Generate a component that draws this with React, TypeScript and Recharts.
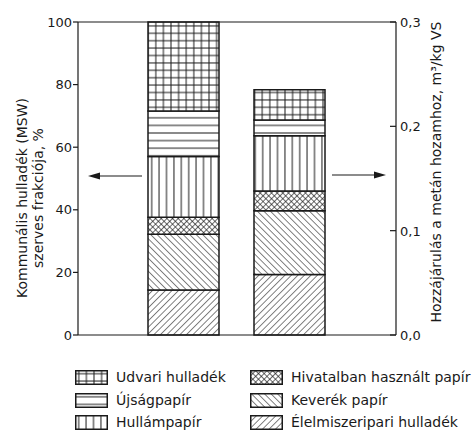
import { Bar, ComposedChart, Label, Line, ReferenceLine, XAxis, YAxis } from 'recharts'

// two columns: organic MSW fraction (%) and contribution to methane yield (m3/kg VS)
const categories = ['Szerves frakció', 'Metán hozam']

const seriesNames = [
  'Élelmiszeripari hulladék',
  'Keverék papír',
  'Hivatalban használt papír',
  'Hullámpapír',
  'Újságpapír',
  'Udvari hulladék',
]
const seriesKeys = ['elelmiszer', 'keverek', 'hivatal', 'hullam', 'ujsag', 'udvari']

// % of organic MSW fraction, bottom to top
const fractionPct = [14.4, 17.8, 5.4, 19.4, 14.6, 28.4]
// m3/kg VS contribution to methane yield, bottom to top
const methaneYield = [0.058, 0.061, 0.019, 0.053, 0.015, 0.029]

const leftTicks = [0, 20, 40, 60, 80, 100]
const rightTicks = [0, 0.1, 0.2, 0.3]
const RIGHT_MAX = 0.3

const chartData = categories.map((name, ci) => {
  const row: Record<string, number | string | null> = { name }
  seriesKeys.forEach((k, i) => {
    row[k] = ci === 0 ? fractionPct[i] : (methaneYield[i] / RIGHT_MAX) * 100
  })
  // total methane yield, only used so the right axis gets its ticks
  row.methaneTotal = ci === 1 ? methaneYield.reduce((a, b) => a + b, 0) : null
  return row
})

const patternIds = ['p-slash', 'p-back', 'p-cross', 'p-vert', 'p-horiz', 'p-grid']

const FONT = '"DejaVu Sans", sans-serif'
const INK = '#1a1a1a'

const Patterns = () => (
  <defs>
    <pattern id="p-slash" width="4.6" height="4.6" patternUnits="userSpaceOnUse" patternTransform="rotate(45)">
      <rect width="4.6" height="4.6" fill="#fff" />
      <line x1="0" y1="0" x2="0" y2="4.6" stroke={INK} strokeWidth="1.1" />
    </pattern>
    <pattern id="p-back" width="4.6" height="4.6" patternUnits="userSpaceOnUse" patternTransform="rotate(-45)">
      <rect width="4.6" height="4.6" fill="#fff" />
      <line x1="0" y1="0" x2="0" y2="4.6" stroke={INK} strokeWidth="1.1" />
    </pattern>
    <pattern id="p-cross" width="4" height="4" patternUnits="userSpaceOnUse" patternTransform="rotate(45)">
      <rect width="4" height="4" fill="#fff" />
      <line x1="0" y1="0" x2="0" y2="4" stroke={INK} strokeWidth="1.3" />
      <line x1="0" y1="0" x2="4" y2="0" stroke={INK} strokeWidth="1.3" />
    </pattern>
    <pattern id="p-vert" width="7.4" height="7.4" patternUnits="userSpaceOnUse">
      <rect width="7.4" height="7.4" fill="#fff" />
      <line x1="3.7" y1="0" x2="3.7" y2="7.4" stroke={INK} strokeWidth="1" />
    </pattern>
    <pattern id="p-horiz" width="7.6" height="7.6" patternUnits="userSpaceOnUse">
      <rect width="7.6" height="7.6" fill="#fff" />
      <line x1="0" y1="3.8" x2="7.6" y2="3.8" stroke={INK} strokeWidth="1" />
    </pattern>
    <pattern id="p-grid" width="7.6" height="7.4" patternUnits="userSpaceOnUse">
      <rect width="7.6" height="7.4" fill="#fff" />
      <line x1="3.8" y1="0" x2="3.8" y2="7.4" stroke={INK} strokeWidth="1" />
      <line x1="0" y1="3.7" x2="7.6" y2="3.7" stroke={INK} strokeWidth="1" />
    </pattern>
  </defs>
)

// right axis: tick mark points inward, label sits outside
const renderRightTick = (props: any) => {
  const { x, y, payload } = props
  return (
    <g key={`rt-${payload.value}`}>
      <line x1={x - 6} y1={y} x2={x} y2={y} stroke={INK} strokeWidth={1.2} />
      <text x={x + 4} y={y + 5} fontSize={13} fontFamily={FONT} fill={INK} textAnchor="start">
        {Number(payload.value).toFixed(1).replace('.', ',')}
      </text>
    </g>
  )
}

const LeftTitle = () => (
  <g fontFamily={FONT} fontSize={14} fill={INK}>
    <text x={22} y={198} transform="rotate(-90 22 198)" textAnchor="middle" dominantBaseline="central">
      Kommunális hulladék (MSW)
    </text>
    <text x={38} y={198} transform="rotate(-90 38 198)" textAnchor="middle" dominantBaseline="central">
      szerves frakciója, %
    </text>
  </g>
)

const RightTitle = () => (
  <text
    x={436}
    y={172}
    transform="rotate(-90 436 172)"
    textAnchor="middle"
    dominantBaseline="central"
    fontFamily={FONT}
    fontSize={14}
    fill={INK}
  >
    Hozzájárulás a metán hozamhoz, m³/kg VS
  </text>
)

// legend: left column top-down, then right column
const legendLeft = [5, 4, 3]
const legendRight = [2, 1, 0]

const LegendRow = ({ idx, x, y }: { idx: number; x: number; y: number }) => (
  <div style={{ position: 'absolute', left: x, top: y - 8, height: 16, display: 'flex', alignItems: 'center' }}>
    <svg width={33} height={15} style={{ display: 'block' }}>
      <rect x={0.75} y={0.75} width={31.5} height={13.5} fill={`url(#${patternIds[idx]})`} stroke={INK} strokeWidth={1.5} />
    </svg>
    <span style={{ marginLeft: 8, fontFamily: FONT, fontSize: 14, color: INK, whiteSpace: 'nowrap' }}>
      {seriesNames[idx]}
    </span>
  </div>
)

const rowY = [377, 400, 422]

export default function App() {
  return (
    <div style={{ position: 'absolute', left: 0, top: 0, width: 474, height: 432, background: '#fff' }}>
      <ComposedChart
        width={474}
        height={345}
        data={chartData}
        margin={{ top: 22, right: 0, bottom: 9, left: 0 }}
        barSize={71}
      >
        <Patterns />
        <XAxis
          dataKey="name"
          height={1}
          tick={false}
          tickLine={false}
          axisLine={{ stroke: INK, strokeWidth: 1.2 }}
          padding={{ left: 52, right: 54 }}
        />
        <YAxis
          yAxisId="left"
          width={78}
          domain={[0, 100]}
          ticks={leftTicks}
          tickSize={5}
          tickMargin={1}
          tickLine={{ stroke: INK, strokeWidth: 1.2 }}
          axisLine={{ stroke: INK, strokeWidth: 1.2 }}
          tick={{ fill: INK, fontSize: 13, fontFamily: FONT }}
        >
          <Label content={<LeftTitle />} />
        </YAxis>
        <YAxis
          yAxisId="right"
          orientation="right"
          width={78}
          domain={[0, RIGHT_MAX]}
          ticks={rightTicks}
          interval={0}
          tickSize={0}
          tickMargin={0}
          tickLine={false}
          axisLine={{ stroke: INK, strokeWidth: 1.2 }}
          tick={renderRightTick}
        >
          <Label content={<RightTitle />} />
        </YAxis>
        <ReferenceLine yAxisId="left" y={100} stroke={INK} strokeWidth={1.2} />
        {seriesKeys.map((k, i) => (
          <Bar
            key={k}
            dataKey={k}
            name={seriesNames[i]}
            yAxisId="left"
            stackId="a"
            fill={`url(#${patternIds[i]})`}
            stroke={INK}
            strokeWidth={1.5}
            isAnimationActive={false}
          />
        ))}
        <Line
          yAxisId="right"
          dataKey="methaneTotal"
          stroke="none"
          dot={false}
          activeDot={false}
          legendType="none"
          isAnimationActive={false}
        />
      </ComposedChart>
      <svg width={474} height={345} style={{ position: 'absolute', left: 0, top: 0, pointerEvents: 'none' }}>
        <line x1={98} y1={176} x2={142} y2={176} stroke={INK} strokeWidth={1.2} />
        <path d="M88,176 L100,172.5 L100,179.5 Z" fill={INK} />
        <line x1={332} y1={175} x2={376} y2={175} stroke={INK} strokeWidth={1.2} />
        <path d="M386,175 L374,171.5 L374,178.5 Z" fill={INK} />
      </svg>
      {legendLeft.map((idx, r) => (
        <LegendRow key={idx} idx={idx} x={75} y={rowY[r]} />
      ))}
      {legendRight.map((idx, r) => (
        <LegendRow key={idx} idx={idx} x={250} y={rowY[r]} />
      ))}
    </div>
  )
}
